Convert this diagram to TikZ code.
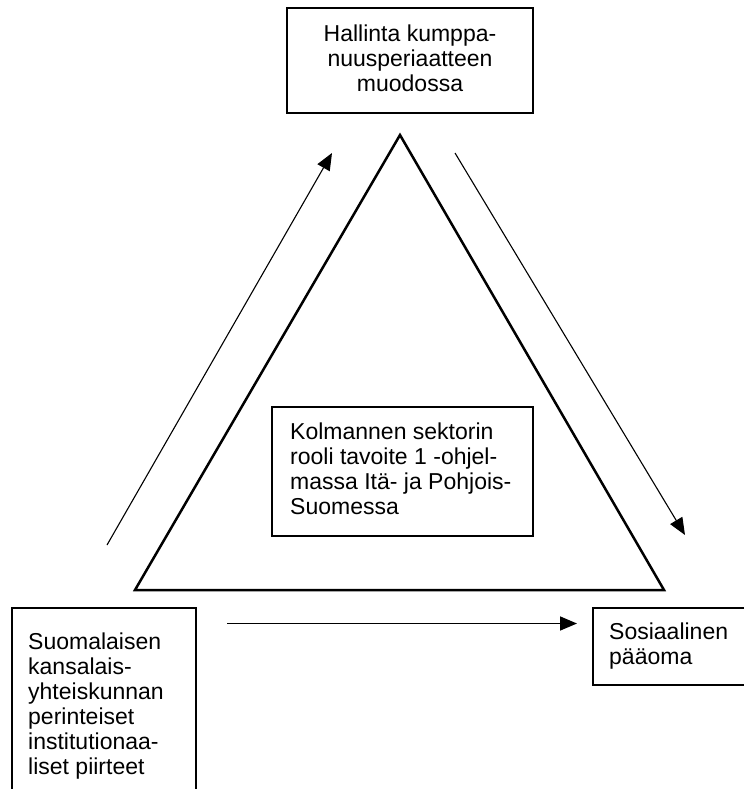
\documentclass[tikz,border=0pt]{standalone}
\usepackage{fontspec}
\setmainfont{Liberation Sans}
\usetikzlibrary{arrows.meta}
\begin{document}
\begin{tikzpicture}[x=1pt,y=-1pt,
  txt/.style={font=\fontsize{23}{25}\selectfont, inner sep=0pt},
  boxline/.style={draw, line width=1.2pt, inner sep=0pt},
  arr/.style={-{Triangle[length=17pt,width=14pt]}, line width=1.1pt},
  tri/.style={line width=2.5pt, line join=miter}]
\useasboundingbox (0,0) rectangle (744,789);

% boxes
\node[boxline, minimum width=246pt, minimum height=105pt] (hallbox) at (410,60.5) {};
\node[txt, align=center, anchor=north] (halltext) at (410,25) {Hallinta kumppa-\\nuusperiaatteen\\muodossa};

\node[boxline, minimum width=261pt, minimum height=129pt] (kolmbox) at (402.5,471.5) {};
\node[txt, align=left, anchor=north west] (kolmtext) at (290,423) {Kolmannen sektorin\\rooli tavoite 1 -ohjel-\\massa Itä- ja Pohjois-\\Suomessa};

\node[txt, align=left, anchor=north west] (suomtext) at (28,633) {Suomalaisen\\kansalais-\\yhteiskunnan\\perinteiset\\institutionaa-\\liset piirteet};
\coordinate (lb1) at (12,789); \coordinate (lb2) at (12,608);
\coordinate (lb3) at (196,608); \coordinate (lb4) at (196,789);
\draw[line width=1.2pt] (lb1) -- (lb2) -- (lb3) -- (lb4);

\node[txt, align=left, anchor=north west] (sostext) at (609,623) {Sosiaalinen\\pääoma};
\coordinate (rb1) at (744,608); \coordinate (rb2) at (593,608);
\coordinate (rb3) at (593,685); \coordinate (rb4) at (744,685);
\draw[line width=1.2pt] (rb1) -- (rb2) -- (rb3) -- (rb4);

% triangle
\coordinate (tA) at (400,135);
\coordinate (tB) at (664,590);
\coordinate (tC) at (135,590);
\draw[tri] (tA) -- (tB) -- (tC) -- cycle;

% arrows
\coordinate (la0) at (107,545); \coordinate (la1) at (332,153);
\coordinate (ra0) at (455,153); \coordinate (ra1) at (685,535);
\coordinate (ba0) at (227,623.5); \coordinate (ba1) at (577,623.5);
\draw[arr] (la0) -- (la1);
\draw[arr] (ra0) -- (ra1);
\draw[arr, line width=1.6pt] (ba0) -- (ba1);
\end{tikzpicture}
\end{document}
